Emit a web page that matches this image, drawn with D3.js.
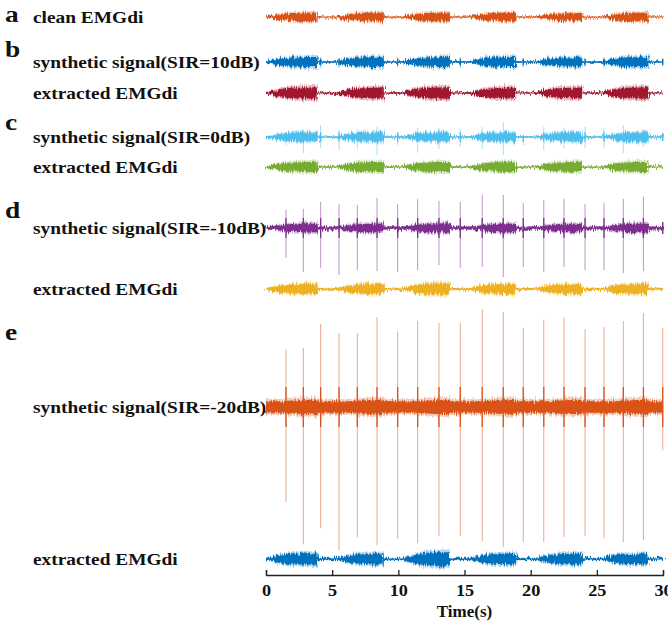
<!DOCTYPE html>
<html>
<head>
<meta charset="utf-8">
<script src="https://cdn.jsdelivr.net/npm/d3@7"></script>
<style>
  body { margin: 0; background: #fff; }
  text { font-family: "Liberation Serif", "Times New Roman", serif; font-weight: bold; fill: #111; }
  .panel-letter { font-size: 24px; }
  .row-label { font-size: 17px; }
  .axis text { font-size: 16px; font-family: "Liberation Serif", serif; font-weight: bold; fill: #111; }
  .axis path, .axis line { stroke: #222; stroke-width: 1.3; }
</style>
</head>
<body>
<div id="chart"></div>
<script>
//////////////////////////////////////////////////////////////
//////////////////////////// Data ////////////////////////////
//////////////////////////////////////////////////////////////

const timeTicks = [0, 5, 10, 15, 20, 25, 30]

// breathing bursts (s)
const burstOn  = [0.0, 5.3, 10.3, 15.4, 20.4, 25.4]
const burstOff = [3.9, 8.9, 13.9, 18.9, 23.9, 28.9]
// envelope of one burst: fraction of burst duration -> fraction of peak
const burstShapeT = [0, 0.12, 0.3, 0.5, 0.75, 1]
const burstShapeA = [0.12, 0.4, 0.72, 0.9, 0.97, 1]

// ECG R-peaks (s)
const ecgTimes = [1.51, 2.82, 4.13, 5.52, 6.90, 8.39, 9.95, 11.46, 13.07, 14.68,
                  16.34, 17.93, 19.44, 20.99, 22.52, 24.11, 25.54, 27.00, 28.52, 29.98]

// amplitudes in mV
const cleanBase = 0.012
const cleanPeaks = [0.12, 0.12, 0.12, 0.12, 0.11, 0.12]

const syn10Base = 0.02
const syn10Peaks = [0.14, 0.14, 0.14, 0.14, 0.13, 0.14]
const syn10Up   = [0.1, 0.1, 0.12, 0.1, 0.1, 0.12, 0.12, 0.1, 0.1, 0.12, 0.1, 0.12, 0.1, 0.1, 0.1, 0.1, 0.12, 0.1, 0.1, 0.08]
const syn10Down = [0.12, 0.12, 0.14, 0.14, 0.12, 0.14, 0.12, 0.12, 0.12, 0.14, 0.12, 0.14, 0.12, 0.12, 0.12, 0.12, 0.14, 0.12, 0.12, 0.08]
const ext10Base = 0.015
const ext10Peaks = [0.16, 0.15, 0.16, 0.15, 0.15, 0.16]

const syn0Base = 0.02
const syn0Peaks = [0.13, 0.13, 0.13, 0.13, 0.13, 0.13]
const syn0Up   = [0.1, 0.18, 0.3, 0.18, 0.2, 0.25, 0.13, 0.23, 0.23, 0.2, 0.25, 0.38, 0.05, 0.25, 0.23, 0.25, 0.23, 0.3, 0.18, 0.1]
const syn0Down = [0.2, 0.4, 0.28, 0.33, 0.3, 0.45, 0.2, 0.38, 0.3, 0.25, 0.3, 0.45, 0.2, 0.33, 0.28, 0.28, 0.28, 0.4, 0.25, 0.1]
const ext0Base = 0.02
const ext0Peaks = [0.14, 0.14, 0.14, 0.14, 0.14, 0.14]

const synM10Base = 0.04
const synM10Peaks = [0.12, 0.12, 0.13, 0.12, 0.12, 0.12]
const synM10Up   = [0.45, 0.48, 0.65, 0.6, 0.58, 0.75, 0.6, 0.73, 0.68, 0.65, 0.83, 0.83, 0.63, 0.7, 0.73, 0.6, 0.63, 0.73, 0.78, 0.15]
const synM10Down = [0.75, 1.1, 1.0, 1.18, 1.05, 1.08, 1.1, 1.05, 0.93, 1.0, 0.98, 1.23, 0.98, 1.1, 0.98, 1.05, 1.05, 1.13, 1.08, 0.15]
const extM10Base = 0.03
const extM10Peaks = [0.14, 0.14, 0.16, 0.14, 0.14, 0.14]

const synM20Base = 0.16
const synM20Peaks = [0.2, 0.2, 0.2, 0.2, 0.2, 0.2]
const synM20Up   = [1.45, 1.48, 2.08, 1.85, 1.85, 2.25, 1.88, 2.15, 2.1, 2.1, 2.45, 2.38, 1.98, 2.18, 2.23, 1.95, 2.0, 2.15, 2.35, 1.98]
const synM20Down = [2.38, 3.43, 3.03, 3.58, 3.25, 3.45, 3.3, 3.4, 3.23, 3.23, 3.35, 3.5, 3.38, 3.38, 3.25, 3.23, 3.28, 3.38, 3.33, 1.08]
const extM20Base = 0.03
const extM20Peaks = [0.16, 0.15, 0.19, 0.15, 0.15, 0.15]

//////////////////////////////////////////////////////////////
/////////////////////// Layout & traces //////////////////////
//////////////////////////////////////////////////////////////

const width = 668
const height = 626

// panel letters
const letters = [
    {t: "a", y: 22},
    {t: "b", y: 57},
    {t: "c", y: 130},
    {t: "d", y: 218},
    {t: "e", y: 340},
]

const traces = [
    {label: "clean EMGdi", cy: 17, color: "#D95319", base: cleanBase, peaks: cleanPeaks},
    {label: "synthetic signal(SIR=10dB)", cy: 62, color: "#0072BD", base: syn10Base, peaks: syn10Peaks,
        up: syn10Up, down: syn10Down, core: 0.08},
    {label: "extracted EMGdi", cy: 93, color: "#A2142F", base: ext10Base, peaks: ext10Peaks},
    {label: "synthetic signal(SIR=0dB)", cy: 137, color: "#4DBEEE", base: syn0Base, peaks: syn0Peaks,
        up: syn0Up, down: syn0Down, core: 0.12},
    {label: "extracted EMGdi", cy: 167, color: "#77AC30", base: ext0Base, peaks: ext0Peaks},
    {label: "synthetic signal(SIR=-10dB)", cy: 228, color: "#7E2F8E", base: synM10Base, peaks: synM10Peaks,
        up: synM10Up, down: synM10Down, core: 0.25},
    {label: "extracted EMGdi", cy: 289, color: "#EDB120", base: extM10Base, peaks: extM10Peaks},
    {label: "synthetic signal(SIR=-20dB)", cy: 407, color: "#D95319", base: synM20Base, peaks: synM20Peaks,
        up: synM20Up, down: synM20Down, core: 0.5},
    {label: "extracted EMGdi", cy: 559, color: "#0072BD", base: extM20Base, peaks: extM20Peaks},
]

const axisY = 575
const labelX = 33
const textStretch = 1.14

//////////////////////////////////////////////////////////////
/////////////////////////// Scales ///////////////////////////
//////////////////////////////////////////////////////////////

const x = d3.scaleLinear().domain([0, 30]).range([266, 663])
const gain = d3.scaleLinear().domain([0, 1]).range([0, 40]) // px per mV

const svg = d3.select("#chart").append("svg")
    .attr("width", width)
    .attr("height", height)

// ragged edge effect for the EMG bands
const defs = svg.append("defs")
const rough = defs.append("filter")
    .attr("id", "rough")
    .attr("x", "-2%").attr("y", "-60%")
    .attr("width", "104%").attr("height", "220%")
rough.append("feTurbulence")
    .attr("type", "fractalNoise")
    .attr("baseFrequency", "0.9 0.08")
    .attr("numOctaves", 2)
    .attr("seed", 3)
    .attr("result", "noise")
rough.append("feDisplacementMap")
    .attr("in", "SourceGraphic")
    .attr("in2", "noise")
    .attr("scale", 7)
    .attr("xChannelSelector", "R")
    .attr("yChannelSelector", "G")

//////////////////////////////////////////////////////////////
////////////////////////// Envelopes /////////////////////////
//////////////////////////////////////////////////////////////

function envelope(tr) {
    let pts = [{t: 0, a: tr.base}]
    burstOn.forEach((on, i) => {
        let dur = burstOff[i] - on
        burstShapeT.forEach((s, j) => {
            pts.push({t: on + s * dur, a: Math.max(tr.base, burstShapeA[j] * tr.peaks[i])})
        })
        pts.push({t: burstOff[i], a: tr.base})
    })
    pts.push({t: 30, a: tr.base})
    return pts
}

const traceG = svg.append("g").attr("class", "trace-group")

traces.forEach(tr => {
    const g = traceG.append("g")
    const env = envelope(tr)

    const band = g.append("g").attr("filter", "url(#rough)")

    // fuzzy outer fringe
    const fringe = d3.area()
        .x(d => x(d.t))
        .y0(d => tr.cy + gain(d.a) * 1.25)
        .y1(d => tr.cy - gain(d.a) * 1.25)
    band.append("path")
        .attr("d", fringe(env))
        .style("fill", tr.color)
        .style("opacity", 0.3)

    const area = d3.area()
        .x(d => x(d.t))
        .y0(d => tr.cy + gain(d.a) * 0.9)
        .y1(d => tr.cy - gain(d.a) * 0.9)
    band.append("path")
        .attr("d", area(env))
        .style("fill", tr.color)

    // baseline
    g.append("line")
        .attr("x1", x(0)).attr("x2", x(30))
        .attr("y1", tr.cy).attr("y2", tr.cy)
        .style("stroke", tr.color)
        .style("stroke-width", 1.2)

    // ECG spikes
    if (tr.up) {
        g.selectAll(".spike")
            .data(ecgTimes)
            .enter().append("line")
            .attr("class", "spike")
            .attr("x1", d => x(d)).attr("x2", d => x(d))
            .attr("y1", (d, i) => tr.cy - gain(tr.up[i]))
            .attr("y2", (d, i) => tr.cy + gain(tr.down[i]))
            .style("stroke", tr.color)
            .style("stroke-width", 1)
            .style("opacity", 0.5)

        g.selectAll(".spike-core")
            .data(ecgTimes)
            .enter().append("line")
            .attr("class", "spike-core")
            .attr("x1", d => x(d)).attr("x2", d => x(d))
            .attr("y1", (d, i) => tr.cy - gain(Math.min(tr.core, tr.up[i])))
            .attr("y2", (d, i) => tr.cy + gain(Math.min(tr.core, tr.down[i])))
            .style("stroke", tr.color)
            .style("stroke-width", 1.3)
    }

    // row label
    g.append("g")
        .attr("transform", "translate(" + [labelX, tr.cy + 5.5] + ") scale(" + textStretch + ",1)")
        .append("text")
        .attr("class", "row-label")
        .text(tr.label)
})

//////////////////////////////////////////////////////////////
/////////////////////// Panel letters ////////////////////////
//////////////////////////////////////////////////////////////

svg.selectAll(".panel-letter")
    .data(letters)
    .enter().append("g")
    .attr("transform", d => "translate(" + [5, d.y] + ") scale(" + textStretch + ",1)")
    .append("text")
    .attr("class", "panel-letter")
    .text(d => d.t)

//////////////////////////////////////////////////////////////
//////////////////////////// Axis ////////////////////////////
//////////////////////////////////////////////////////////////

const axis = svg.append("g")
    .attr("class", "axis")
    .attr("transform", "translate(0," + axisY + ")")
    .call(d3.axisBottom(x)
        .tickValues(timeTicks)
        .tickSizeInner(-5)
        .tickSizeOuter(-5)
        .tickPadding(10))

axis.selectAll(".tick text")
    .attr("transform", "scale(" + textStretch + ",1)")

svg.append("g")
    .attr("transform", "translate(" + [x(15), 617] + ")")
    .append("text")
    .attr("text-anchor", "middle")
    .style("font-size", "17px")
    .text("Time(s)")
</script>
</body>
</html>
